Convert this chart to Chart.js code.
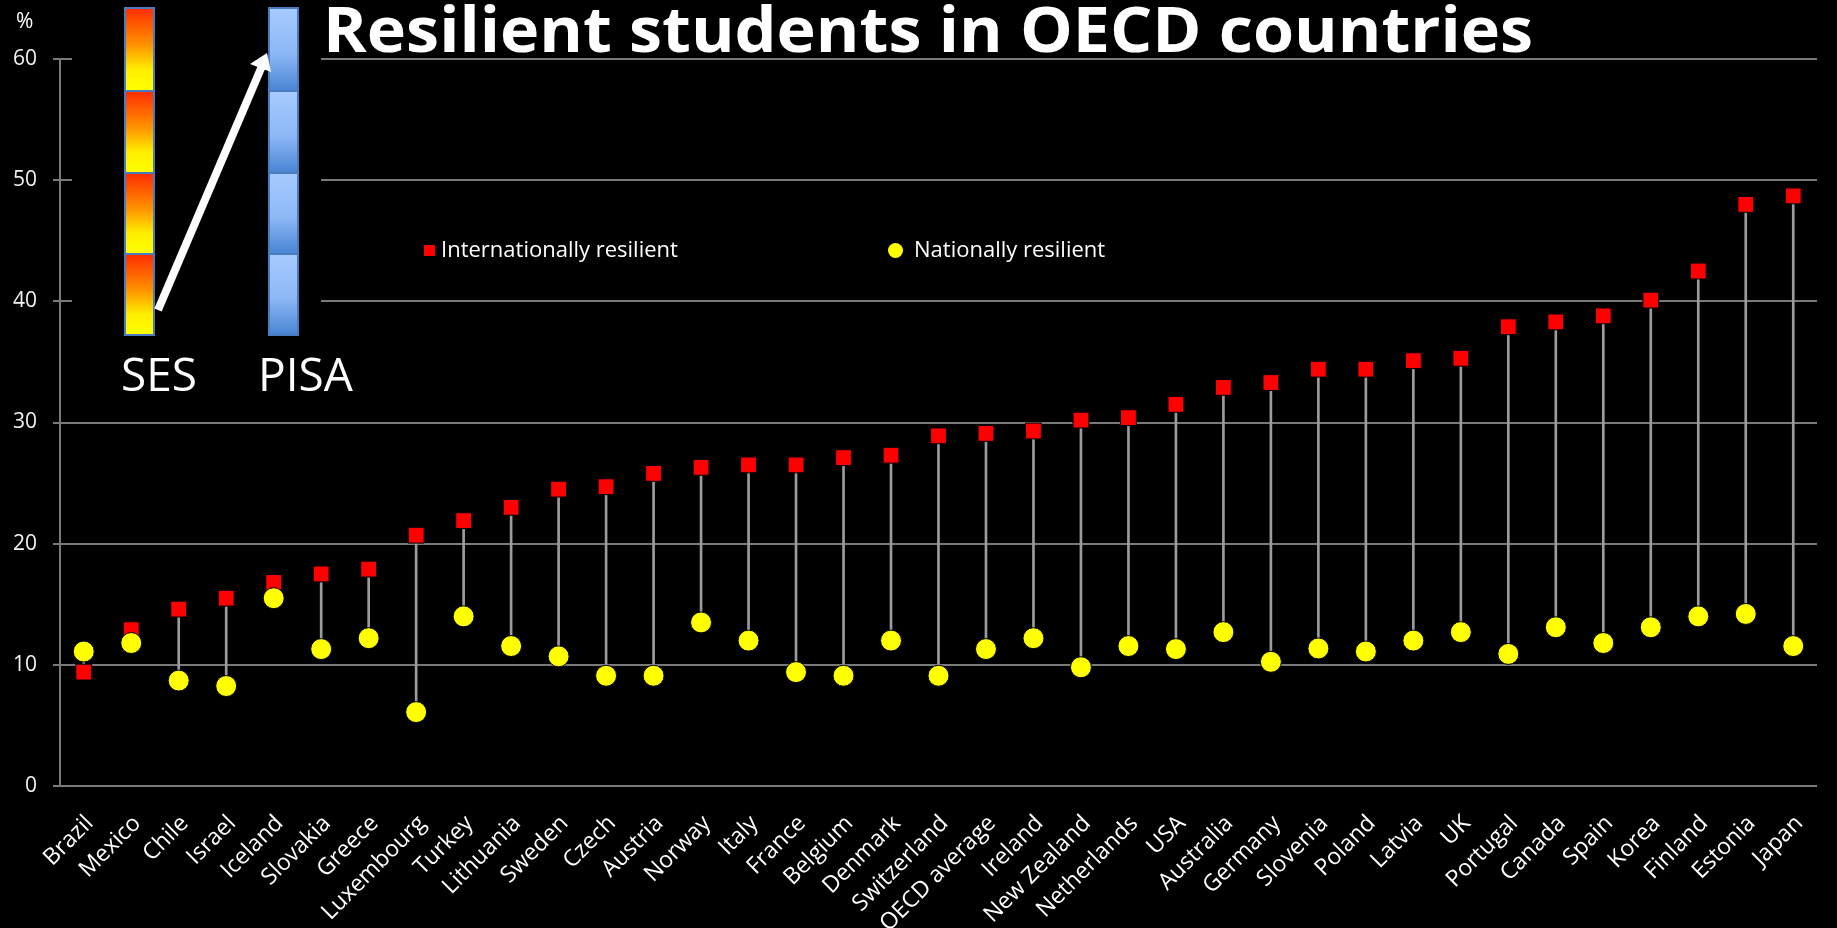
<!DOCTYPE html>
<html>
<head>
<meta charset="utf-8">
<script src="https://cdn.jsdelivr.net/npm/chart.js@4.4.1/dist/chart.umd.min.js"></script>
<style>
  html, body { margin: 0; padding: 0; background: #000; }
  #wrap { position: relative; width: 1837px; height: 928px; overflow: hidden; background: #000; }
  #chart { position: absolute; left: 0; top: 0; }
  .txt { position: absolute; color: #fff; font-family: 'Open Sans', sans-serif; white-space: nowrap; line-height: 1; }
  #title { left: 323px; top: -4px; font-size: 63px; font-weight: 700; transform-origin: 0 0; }
  #cover { position: absolute; left: 72px; top: 0; width: 249px; height: 400px; background: #000; }
  .bar { position: absolute; width: 31px; height: 329px; box-sizing: border-box; border: 2px solid #4a7bbf; }
  .seg { height: 25%; box-sizing: border-box; border-top: 2px solid #4a7bbf; }
  .seg:first-child { border-top: none; }
  #ses { left: 124px; top: 7px; }
  #ses .seg { background: linear-gradient(#ff2e00, #ff9400 45%, #ffee00 75%, #ffff00); }
  #pisa { left: 268px; top: 7px; }
  #pisa .seg { background: linear-gradient(#a6caff, #8cb8f6 55%, #4a86d4); }
  .leg-sq { position: absolute; width: 11px; height: 11px; background: #ff0000; }
  .leg-dot { position: absolute; width: 15px; height: 15px; border-radius: 50%; background: #ffff00; }
</style>
</head>
<body>
<div id="wrap">
  <canvas id="chart" width="1837" height="928"></canvas>
  <div id="cover"></div>
  <div class="bar" id="ses"><div class="seg"></div><div class="seg"></div><div class="seg"></div><div class="seg"></div></div>
  <div class="bar" id="pisa"><div class="seg"></div><div class="seg"></div><div class="seg"></div><div class="seg"></div></div>
  <svg style="position:absolute;left:0;top:0" width="400" height="400">
    <line x1="158" y1="310" x2="262" y2="66" stroke="#fff" stroke-width="8"/>
    <polygon points="267,53 271,72 250,64" fill="#fff"/>
  </svg>
  <div class="txt" style="left:121px;top:350px;font-size:46px;">SES</div>
  <div class="txt" style="left:258px;top:350px;font-size:46px;">PISA</div>
  <div class="txt" id="title">Resilient students in OECD countries</div>
  <div class="txt" style="left:16px;top:10px;font-size:21px;">%</div>
  <div class="leg-sq" style="left:424px;top:245px;"></div>
  <div class="txt" style="left:441px;top:237px;font-size:22px;">Internationally resilient</div>
  <div class="leg-dot" style="left:888px;top:243px;"></div>
  <div class="txt" style="left:914px;top:237px;font-size:22px;">Nationally resilient</div>
</div>
<script>
const countries = ['Brazil', 'Mexico', 'Chile', 'Israel', 'Iceland', 'Slovakia', 'Greece', 'Luxembourg',
  'Turkey', 'Lithuania', 'Sweden', 'Czech', 'Austria', 'Norway', 'Italy', 'France', 'Belgium', 'Denmark',
  'Switzerland', 'OECD average', 'Ireland', 'New Zealand', 'Netherlands', 'USA', 'Australia', 'Germany',
  'Slovenia', 'Poland', 'Latvia', 'UK', 'Portugal', 'Canada', 'Spain', 'Korea', 'Finland', 'Estonia', 'Japan'];

// % of disadvantaged students who are resilient
const intlResilient = [9.4, 12.9, 14.6, 15.5, 16.8, 17.5, 17.9, 20.7, 21.9, 23.0, 24.5, 24.7, 25.8, 26.3,
  26.5, 26.5, 27.1, 27.3, 28.9, 29.1, 29.3, 30.2, 30.4, 31.5, 32.9, 33.3, 34.4, 34.4, 35.1, 35.3, 37.9,
  38.3, 38.8, 40.1, 42.5, 48.0, 48.7];
const natResilient = [11.1, 11.8, 8.7, 8.25, 15.5, 11.3, 12.2, 6.1, 14.0, 11.55, 10.7, 9.1, 9.1, 13.5,
  12.0, 9.4, 9.1, 12.0, 9.1, 11.3, 12.2, 9.8, 11.55, 11.3, 12.7, 10.25, 11.35, 11.1, 12.0, 12.7, 10.9,
  13.1, 11.8, 13.1, 14.0, 14.2, 11.55];

const yTicks = [0, 10, 20, 30, 40, 50, 60];

// drop lines between the two markers
const dropLines = countries.map((c, i) => [natResilient[i], intlResilient[i]]);

const gridCol = '#7a7a7a';
const fontFam = "'Open Sans', sans-serif";

const chart = new Chart(document.getElementById('chart'), {
  data: {
    labels: countries,
    datasets: [
      { type: 'bar', data: dropLines, backgroundColor: '#9c9c9c', barThickness: 2, order: 3 },
      { type: 'line', label: 'Internationally resilient', data: intlResilient, showLine: false,
        pointStyle: 'rect', pointRadius: 11.2, pointBackgroundColor: '#ff0000',
        pointBorderColor: '#000', pointBorderWidth: 1, order: 2 },
      { type: 'line', label: 'Nationally resilient', data: natResilient, showLine: false,
        pointStyle: 'circle', pointRadius: 10.5, pointBackgroundColor: '#ffff00',
        pointBorderColor: '#000', pointBorderWidth: 1, order: 1 }
    ]
  },
  options: {
    responsive: false,
    animation: false,
    layout: { padding: { top: 59, right: 18, left: 0, bottom: 0 } },
    plugins: { legend: { display: false }, tooltip: { enabled: false } },
    scales: {
      x: {
        type: 'category',
        offset: true,
        grid: { display: false, drawTicks: false },
        border: { display: true, color: gridCol, width: 2 },
        ticks: { color: '#fff', font: { family: fontFam, size: 23 }, maxRotation: 45, minRotation: 45,
          autoSkip: false, padding: 24, labelOffset: 6 },
        afterFit: s => { s.height = 142; }
      },
      y: {
        min: 0, max: 60,
        afterBuildTicks: s => { s.ticks = yTicks.map(v => ({ value: v })); },
        grid: { color: gridCol, lineWidth: 2, tickLength: 7 },
        border: { display: true, color: gridCol, width: 2 },
        ticks: { color: '#f2f2f2', font: { family: fontFam, size: 21 }, padding: 16 },
        afterFit: s => { s.width = 60; }
      }
    }
  }
});

// stretch the title to the width it has in the picture
const t = document.getElementById('title');
const w = t.getBoundingClientRect().width;
t.style.transform = 'scaleX(' + (1210 / w) + ')';
</script>
</body>
</html>
